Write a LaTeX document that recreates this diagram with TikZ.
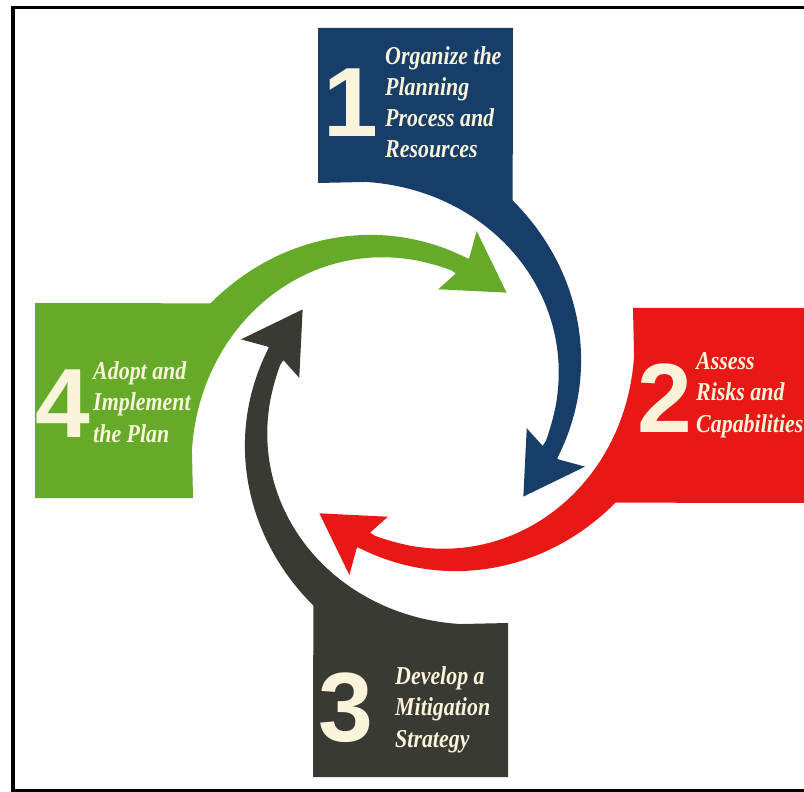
\documentclass[tikz,border=0pt]{standalone}
\usepackage{fontspec}
\newfontfamily\stepfont[FakeStretch=0.85]{Liberation Serif}
\newfontfamily\numfont{Liberation Sans}

\definecolor{planblue}{RGB}{22,62,104}
\definecolor{planred}{RGB}{232,24,22}
\definecolor{plangreen}{RGB}{102,170,42}
\definecolor{plangray}{RGB}{58,58,52}
\definecolor{cream}{RGB}{250,244,218}

% one box with its tapered arrow, drawn for the top box (#2 = box length)
\newcommand{\cyclearrow}[2]{%
  \fill[#1] (-95,-#2) -- (-95,-220)
    -- plot[domain=-102:16, samples=50, smooth] (\x:{138+88*(1-(\x+102)/120)^1.5})
    -- (18.3:136.5)
    -- (12.5:116.5) -- (40.3:144.7) -- (20.3:183.4) -- (21.2:156)
    -- plot[domain=21:-63.8, samples=50, smooth] (\x:{152+74*(1-(\x+64)/100)^1.8})
    -- (100,-#2) -- cycle;}

\tikzset{
  stepnum/.style={font=\numfont\bfseries\fontsize{84}{84}\selectfont,
    text=cream, inner sep=0pt, anchor=base},
  steptext/.style={font=\stepfont\bfseries\itshape\fontsize{22}{26.5}\selectfont,
    text=cream, align=left, inner sep=0pt, anchor=base west}
}

\begin{document}
\begin{tikzpicture}[x=0.03cm, y=-0.03cm]
\useasboundingbox (0,0) rectangle (804,792);
\clip (0,0) rectangle (804,792);
\fill[white] (0,0) rectangle (804,792);

% frame, open on the right
\draw[line width=3pt] (850,7.5) -- (13,7.5) -- (13,790.5) -- (850,790.5);

% the four arrows turn about the middle
\begin{scope}[shift={(413,403)}]
  \cyclearrow{planblue}{375}
  \begin{scope}[rotate=-90] \cyclearrow{planred}{420} \end{scope}
  \begin{scope}[rotate=180] \cyclearrow{plangray}{374} \end{scope}
  \begin{scope}[rotate=90] \cyclearrow{plangreen}{378} \end{scope}
\end{scope}

% numbers and step names (text placed by its last baseline)
\node[stepnum] (n1) at (351,137) {1};
\node[steptext] (t1) at (385,158) {Organize the\\Planning\\Process and\\Resources};
\node[stepnum] (n2) at (665,432) {2};
\node[steptext] (t2) at (696,432) {Assess\\Risks and\\Capabilities};
\node[stepnum] (n3) at (346,741) {3};
\node[steptext] (t3) at (395,747) {Develop a\\Mitigation\\Strategy};
\node[stepnum] (n4) at (63,437) {4};
\node[steptext] (t4) at (93,442) {Adopt and\\Implement\\the Plan};
\end{tikzpicture}
\end{document}
